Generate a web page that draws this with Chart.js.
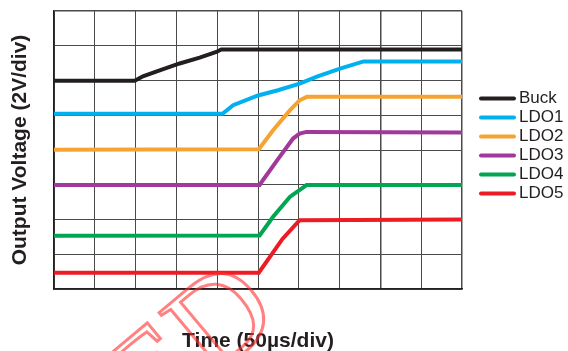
<!DOCTYPE html>
<html lang="en">
<head>
    <meta charset="UTF-8">
    <title>Power-up Sequence</title>
    <script src="https://cdn.jsdelivr.net/npm/chart.js"></script>
    <style>
        body { margin: 0; background: #fff; }
        #wrap { width: 568px; height: 351px; }
    </style>
</head>
<body>
    <div id="wrap"><canvas id="seqChart" width="568" height="351"></canvas></div>

    <script>
        // time in divisions (50us/div), voltage in divisions (2V/div)
        const buckTime = [0, 1.98, 2.18, 2.59, 3.08, 3.57, 3.98, 4.1, 10];
        const buckVolt = [5.99, 5.99, 6.12, 6.29, 6.49, 6.66, 6.82, 6.89, 6.89];
        const ldo1Time = [0, 4.13, 4.39, 5.0, 5.49, 6.02, 6.46, 7.03, 7.59, 10];
        const ldo1Volt = [5.04, 5.04, 5.29, 5.57, 5.72, 5.91, 6.12, 6.35, 6.55, 6.55];
        const ldo2Time = [0, 5.02, 5.37, 5.78, 6.02, 6.2, 10];
        const ldo2Volt = [4.01, 4.02, 4.57, 5.14, 5.43, 5.53, 5.53];
        const ldo3Time = [0, 5.04, 5.12, 5.53, 5.86, 6.02, 6.19, 10];
        const ldo3Volt = [2.99, 2.99, 3.13, 3.8, 4.33, 4.47, 4.52, 4.5];
        const ldo4Time = [0, 5.04, 5.37, 5.78, 6.19, 10];
        const ldo4Volt = [1.53, 1.54, 2.08, 2.65, 2.99, 2.99];
        const ldo5Time = [0, 5.02, 5.6, 6.02, 10];
        const ldo5Volt = [0.47, 0.47, 1.44, 1.98, 2.0];

        const seriesNames = ['Buck', 'LDO1', 'LDO2', 'LDO3', 'LDO4', 'LDO5'];
        const seriesColors = ['#231f20', '#00b0ef', '#f5a431', '#a0399a', '#00a651', '#ed1c24'];
        const seriesTimes = [buckTime, ldo1Time, ldo2Time, ldo3Time, ldo4Time, ldo5Time];
        const seriesVolts = [buckVolt, ldo1Volt, ldo2Volt, ldo3Volt, ldo4Volt, ldo5Volt];

        const xTitle = 'Time (50µs/div)';
        const yTitle = 'Output Voltage (2V/div)';
        const watermark = 'ED';

        Chart.defaults.font.family = "'Liberation Sans', Arial, sans-serif";
        Chart.defaults.color = '#231f20';

        // legend drawn by hand so it sits where the scope shot has it
        const sideLegend = {
            id: 'sideLegend',
            afterDraw(chart) {
                const ctx = chart.ctx;
                const area = chart.chartArea;
                const x0 = area.right + 17;
                const y0 = area.top + 87.5;
                ctx.save();
                ctx.font = "17px 'Liberation Sans', Arial, sans-serif";
                ctx.textBaseline = 'middle';
                ctx.lineCap = 'round';
                ctx.lineWidth = 4;
                chart.data.datasets.forEach((ds, i) => {
                    const y = y0 + i * 19;
                    ctx.strokeStyle = ds.borderColor;
                    ctx.beginPath();
                    ctx.moveTo(x0 + 2, y);
                    ctx.lineTo(x0 + 35, y);
                    ctx.stroke();
                    ctx.fillStyle = '#231f20';
                    ctx.fillText(ds.label, x0 + 40, y);
                });
                ctx.restore();
            }
        };

        // red outlined stamp across the bottom, only its tail is in frame
        const stamp = {
            id: 'stamp',
            afterDraw(chart) {
                const ctx = chart.ctx;
                ctx.save();
                ctx.translate(283, 320);
                ctx.rotate(-40 * Math.PI / 180);
                ctx.font = "130px 'Liberation Serif', 'Times New Roman', serif";
                ctx.textAlign = 'right';
                ctx.textBaseline = 'alphabetic';
                ctx.strokeStyle = 'rgba(255, 45, 45, 0.6)';
                ctx.lineWidth = 3;
                ctx.strokeText(watermark, 0, 0);
                ctx.restore();
            }
        };

        const datasets = seriesNames.map((name, i) => ({
            label: name,
            data: seriesTimes[i].map((t, j) => ({ x: t, y: seriesVolts[i][j] })),
            borderColor: seriesColors[i],
            backgroundColor: seriesColors[i],
            borderWidth: 4,
            pointRadius: 0,
            tension: 0
        }));

        const gridWidth = (c) => (c.tick && (c.tick.value === 10 || c.tick.value === 8) ? 1.5 : 1);

        new Chart(document.getElementById('seqChart'), {
            type: 'line',
            data: { datasets: datasets },
            options: {
                responsive: false,
                animation: false,
                layout: { padding: { top: 11, right: 106, left: 0, bottom: 0 } },
                plugins: {
                    legend: { display: false },
                    tooltip: { enabled: false }
                },
                scales: {
                    x: {
                        type: 'linear',
                        min: 0,
                        max: 10,
                        ticks: { display: false, stepSize: 1 },
                        grid: { color: '#4a4a4a', lineWidth: gridWidth, drawTicks: false },
                        border: { display: true, color: '#231f20', width: 1.5 },
                        title: {
                            display: true,
                            text: xTitle,
                            font: { size: 21, weight: 'bold', lineHeight: 1 },
                            padding: { top: 42, bottom: -1 }
                        }
                    },
                    y: {
                        min: 0,
                        max: 8,
                        ticks: { display: false, stepSize: 1 },
                        grid: { color: '#4a4a4a', lineWidth: gridWidth, drawTicks: false },
                        border: { display: true, color: '#231f20', width: 1.5 },
                        title: {
                            display: true,
                            text: yTitle,
                            font: { size: 21, weight: 'bold', lineHeight: 1 },
                            padding: { top: 10, bottom: 23 }
                        }
                    }
                }
            },
            plugins: [sideLegend, stamp]
        });
    </script>
</body>
</html>
